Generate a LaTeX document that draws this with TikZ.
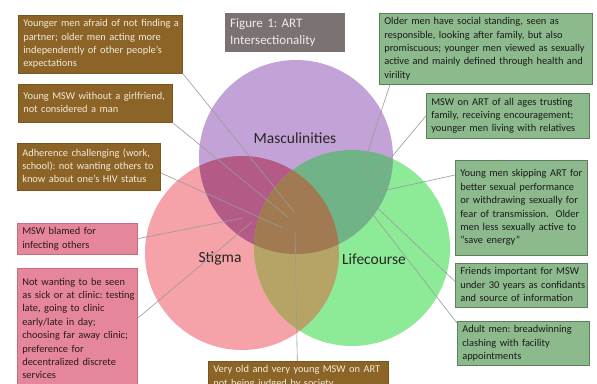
\documentclass[tikz,border=0pt]{standalone}
\usepackage{fontspec}
\setmainfont{Carlito}
\frenchspacing
\definecolor{purplec}{HTML}{C3A3D7}
\definecolor{pinkc}{HTML}{F5A2A8}
\definecolor{greenc}{HTML}{8DEB98}
\definecolor{pmc}{HTML}{B45A86}
\definecolor{mgc}{HTML}{6FB386}
\definecolor{pgc}{HTML}{B6A466}
\definecolor{allc}{HTML}{A27A52}
\definecolor{brownfill}{HTML}{8C6428}
\definecolor{browndraw}{HTML}{7A5520}
\definecolor{browntext}{HTML}{F2EAD8}
\definecolor{pinkfill}{HTML}{E6869A}
\definecolor{pinkdraw}{HTML}{C86A80}
\definecolor{pinktext}{HTML}{2A1A1A}
\definecolor{greenfill}{HTML}{8DBA8D}
\definecolor{greendraw}{HTML}{5E7E5E}
\definecolor{greentext}{HTML}{1A1A1A}
\definecolor{titlefill}{HTML}{7B7272}
\definecolor{titletext}{HTML}{F0ECEC}
\definecolor{linkc}{HTML}{9A9A9A}
% lines of a note, kept exactly as broken
\newcommand{\notelines}[1]{\begin{tabular}{@{}l@{}}#1\end{tabular}}
\begin{document}
\begin{tikzpicture}[x=1pt,y=-1pt,
  note/.style={anchor=north west,align=left,inner xsep=5pt,inner ysep=2pt,
    font=\fontsize{10.4}{13.4}\selectfont,line width=0.6pt},
  brownbox/.style={note,fill=brownfill,draw=browndraw,text=browntext},
  pinkbox/.style={note,fill=pinkfill,draw=pinkdraw,text=pinktext},
  greenbox/.style={note,fill=greenfill,draw=greendraw,text=greentext},
  titlebox/.style={anchor=north west,align=left,inner xsep=5pt,fill=titlefill,
    text=titletext,font=\fontsize{13}{16.5}\selectfont},
  setlabel/.style={font=\fontsize{15.5}{18}\selectfont,text=black!85},
  link/.style={draw=linkc,line width=0.6pt}]
\useasboundingbox (0,0) rectangle (597,383);
\fill[white] (0,0) rectangle (597,383);

% the three sets
\coordinate (cm) at (296,157);
\coordinate (cs) at (242,253);
\coordinate (cl) at (352,248);
\fill[pinkc] (cs) circle[radius=97pt];
\fill[greenc] (cl) circle[radius=98pt];
\fill[purplec] (cm) circle[radius=97pt];
\begin{scope}
  \clip (cs) circle[radius=97pt];
  \fill[pmc] (cm) circle[radius=97pt];
  \fill[pgc] (cl) circle[radius=98pt];
\end{scope}
\begin{scope}
  \clip (cm) circle[radius=97pt];
  \fill[mgc] (cl) circle[radius=98pt];
\end{scope}
\begin{scope}
  \clip (cs) circle[radius=97pt];
  \clip (cm) circle[radius=97pt];
  \fill[allc] (cl) circle[radius=98pt];
\end{scope}

\node[setlabel] (lm) at (295,138) {Masculinities};
\node[setlabel] (ls) at (220,258) {Stigma};
\node[setlabel] (ll) at (374,259) {Lifecourse};

% title
\node[titlebox,text width=110pt,minimum height=39pt] (title) at (225,13)
  {Figure 1: ART\\Intersectionality};

% masculinity notes
\node[brownbox,text width=154pt,minimum height=57pt] (b1) at (18,15)
  {\notelines{Younger men afraid of not finding a\\partner; older men acting more\\independently of other people’s\\expectations}};
\node[brownbox,text width=144pt,minimum height=38pt] (b2) at (18,84)
  {\notelines{Young MSW without a girlfriend,\\not considered a man}};
\node[brownbox,text width=133pt,minimum height=47pt] (b3) at (17,143)
  {\notelines{Adherence challenging (work,\\school): not wanting others to\\know about one’s HIV status}};
\node[brownbox,text width=170pt,minimum height=30pt] (b4) at (208,361)
  {\notelines{Very old and very young MSW on ART\\not being judged by society}};

% stigma notes
\node[pinkbox,text width=110pt,minimum height=122pt] (p2) at (17,268)
  {\notelines{Not wanting to be seen\\as sick or at clinic: testing\\late, going to clinic\\early/late in day;\\choosing far away clinic;\\preference for\\decentralized discrete\\services}};
\node[pinkbox,text width=110pt,minimum height=30pt] (p1) at (17,223)
  {\notelines{MSW blamed for\\infecting others}};

% lifecourse notes
\node[greenbox,text width=203pt,minimum height=71pt] (g1) at (379,13)
  {\notelines{Older men have social standing, seen as\\responsible, looking after family, but also\\promiscuous; younger men viewed as sexually\\active and mainly defined through health and\\virility}};
\node[greenbox,text width=153pt,minimum height=45pt] (g2) at (426,93)
  {\notelines{MSW on ART of all ages trusting\\family, receiving encouragement;\\younger men living with relatives}};
\node[greenbox,text width=122pt,minimum height=95pt] (g3) at (455,160)
  {\notelines{Young men skipping ART for\\better sexual performance\\or withdrawing sexually for\\fear of transmission.\ \ Older\\men less sexually active to\\“save energy”}};
\node[greenbox,text width=122pt,minimum height=39pt] (g4) at (455,263)
  {\notelines{Friends important for MSW\\under 30 years as confidants\\and source of information}};
\node[greenbox,text width=122pt,minimum height=41pt] (g5) at (457,321)
  {\notelines{Adult men: breadwinning\\clashing with facility\\appointments}};

% points inside the sets
\coordinate (e1) at (295,213);
\coordinate (e2) at (288,217);
\coordinate (e3) at (283,228);
\coordinate (e4) at (243,218);
\coordinate (e5) at (252,222);
\coordinate (ev) at (295,232);
\coordinate (e6) at (359,178);
\coordinate (e7) at (370,183);
\coordinate (e8) at (373,193);
\coordinate (e9) at (372,203);
\coordinate (e10) at (367,207);

% connectors
\draw[link] (b1.south east) -- (e1);
\draw[link] (b2.south east) -- (e2);
\draw[link] ([yshift=-6pt]b3.east) -- (e3);
\draw[link] (p1.east) -- (e4);
\draw[link] ([yshift=11pt]p2.east) -- (e5);
\draw[link] ([xshift=-1pt]b4.north) -- (ev);
\draw[link] ([xshift=11pt]g1.south west) -- (e6);
\draw[link] (g2.west) -- (e7);
\draw[link] ([yshift=-15pt]g3.north west) -- (e8);
\draw[link] ([yshift=4pt]g4.west) -- (e9);
\draw[link] ([yshift=-2pt]g5.north west) -- (e10);
\end{tikzpicture}
\end{document}
